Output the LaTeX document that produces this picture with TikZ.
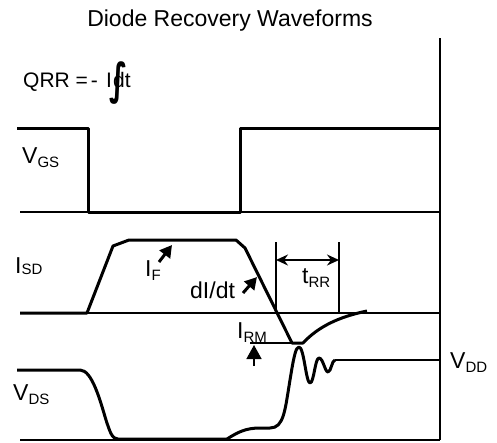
\documentclass[tikz,border=0pt]{standalone}
\usepackage{fontspec}
\setmainfont{Liberation Sans}
\newfontfamily\intfont{DejaVu Sans}
\usetikzlibrary{arrows.meta}
\newcommand\lbl[3][4pt]{#2\raisebox{-#1}{\fontsize{15}{15}\selectfont #3}}
\begin{document}
\begin{tikzpicture}[x=1pt,y=-1pt,
  wave/.style={line width=3pt, line join=round},
  thinline/.style={line width=1.5pt},
  txt/.style={inner sep=0pt, font=\fontsize{23}{23}\selectfont, anchor=base west},
  qtxt/.style={txt, font=\fontsize{21}{21}\selectfont},
  ptr/.style={line width=3pt, -{Triangle[length=12pt,width=13pt]}},
  dimarrow/.style={line width=1.5pt, {Stealth[length=12pt,width=11pt]}-{Stealth[length=12pt,width=11pt]}},
  uparrow/.style={line width=1.5pt, -{Triangle[length=14pt,width=15pt]}}
]
\useasboundingbox (0,0) rectangle (497,442);
% title and formula
\node[txt, anchor=base] (title) at (230,26) {Diode Recovery Waveforms};
\node[qtxt] (qrr) at (23,87) {QRR =};
\node[qtxt, anchor=base east] (qminus) at (98,87) {-};
\node[qtxt] (qi) at (106,87) {I};
\node[qtxt] (qdt) at (113,87) {dt};
\node[inner sep=0pt, font=\intfont\bfseries\fontsize{30}{30}\selectfont] (qint) at (119,83) {\scalebox{1}[1.45]{∫}};
% right vertical line
\coordinate (vtop) at (440,38);
\coordinate (vbot) at (440,440);
\draw[thinline] (vtop) -- (vbot);
% VGS
\coordinate (gsL) at (20,212);
\coordinate (gsR) at (440,212);
\draw[thinline] (gsL) -- (gsR);
\draw[wave] (17,128) -- (88,128) -- (88,212) -- (240,212) -- (240,128) -- (440,128);
\node[txt] (vgs) at (22,163) {\lbl{V}{GS}};
% ISD
\coordinate (sdL) at (20,313);
\coordinate (sdR) at (440,313);
\draw[thinline] (sdL) -- (sdR);
\draw[wave] (20,313) -- (87,313) -- (113,246) -- (129,240) -- (236,240) -- (245,248) -- (292,343) -- (303,343)
  .. controls (318,327) and (338,317) .. (367,311);
\node[txt] (isd) at (15,273) {\lbl[1.5pt]{I}{SD}};
% IF
\node[txt] (iflbl) at (145,276) {\lbl{I}{F}};
\coordinate (ifA) at (159,262);
\coordinate (ifB) at (172,245);
\draw[ptr] (ifA) -- (ifB);
% dI/dt
\node[txt] (didt) at (190,298) {dI/dt};
\coordinate (dA) at (243,293);
\coordinate (dB) at (257,277);
\draw[ptr] (dA) -- (dB);
% tRR
\coordinate (t1a) at (276,242);
\coordinate (t1b) at (276,313);
\coordinate (t2a) at (339,242);
\coordinate (t2b) at (339,313);
\draw[thinline] (t1a) -- (t1b);
\draw[thinline] (t2a) -- (t2b);
\coordinate (tA) at (276,260);
\coordinate (tB) at (339,260);
\draw[dimarrow] (tA) -- (tB);
\node[txt] (trr) at (302,283) {\lbl{t}{RR}};
% IRM
\coordinate (rmA) at (250,343);
\coordinate (rmB) at (292,343);
\draw[thinline] (rmA) -- (rmB);
\coordinate (uA) at (254,366);
\coordinate (uB) at (254,345);
\draw[uparrow] (uA) -- (uB);
\node[txt] (irm) at (237,338) {\lbl{I}{RM}};
% VDS
\coordinate (dsL) at (20,440);
\coordinate (dsR) at (440,440);
\draw[thinline] (dsL) -- (dsR);
\draw[wave] (17,370) -- (80,370) .. controls (92,370) and (100,400) .. (106,420)
  .. controls (110,432) and (112,439) .. (118,439) -- (227,439)
  .. controls (238,432) and (246,428) .. (260,428) -- (270,428)
  .. controls (284,428) and (285,410) .. (290,380)
  .. controls (294,355) and (296,347) .. (299,347)
  .. controls (304,347) and (306,383) .. (310,383)
  .. controls (314,383) and (315,358) .. (319,358)
  .. controls (323,358) and (325,372) .. (328,372)
  .. controls (331,372) and (332,360) .. (335,360);
\coordinate (ddA) at (335,360);
\coordinate (ddB) at (440,360);
\draw[thinline] (ddA) -- (ddB);
\node[txt] (vds) at (13,400) {\lbl{V}{DS}};
\node[txt] (vdd) at (450,368) {\lbl{V}{DD}};
\end{tikzpicture}
\end{document}
